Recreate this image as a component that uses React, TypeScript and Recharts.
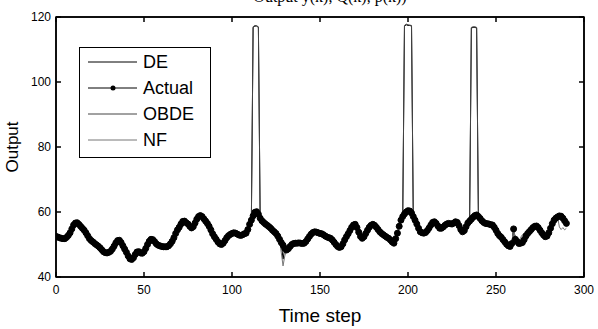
import React from "react";
import { LineChart, Line, XAxis, YAxis, Legend, ReferenceLine } from "recharts";

// measured output of the plant, one value per time step (0..290)
const actual = [
  52.5, 52.3, 52.1, 51.9, 51.8, 51.8, 52.2, 52.8, 53.6, 54.8,
  56.0, 56.6, 56.7, 56.2, 55.6, 55.0, 54.4, 53.6, 52.7, 51.8,
  51.2, 50.8, 50.3, 49.9, 49.5, 49.0, 48.4, 47.8, 47.5, 47.4,
  47.6, 47.9, 48.6, 49.5, 50.5, 51.2, 51.3, 50.6, 49.6, 48.6,
  47.6, 46.5, 45.6, 45.4, 45.9, 46.9, 47.7, 47.8, 47.4, 47.3,
  47.8, 48.8, 50.0, 51.0, 51.6, 51.5, 50.9, 50.2, 49.8, 49.6,
  49.4, 49.3, 49.3, 49.3, 49.6, 50.2, 51.0, 52.1, 53.4, 54.5,
  55.3, 56.3, 57.1, 57.2, 56.7, 56.3, 55.6, 55.1, 55.5, 56.6,
  57.8, 58.6, 58.9, 58.6, 57.9, 57.2, 56.5, 55.6, 54.5, 53.3,
  52.4, 51.6, 50.8, 50.2, 50.0, 50.4, 51.2, 52.1, 52.7, 53.1,
  53.4, 53.6, 53.5, 53.2, 52.9, 52.8, 53.0, 53.3, 53.5, 54.6,
  56.2, 57.5, 58.8, 59.9, 60.1, 59.3, 58.1, 57.3, 56.8, 56.3,
  55.9, 55.5, 55.0, 54.4, 53.9, 53.4, 52.6, 51.6, 50.6, 49.8,
  48.8, 48.3, 48.7, 49.4, 50.0, 50.3, 50.4, 50.4, 50.5, 50.4,
  50.3, 50.4, 50.9, 51.7, 52.5, 53.2, 53.7, 53.9, 53.8, 53.6,
  53.4, 53.3, 53.0, 52.6, 52.3, 52.1, 51.9, 51.4, 50.7, 50.0,
  49.4, 49.1, 49.3, 50.2, 51.4, 52.4, 53.3, 54.3, 55.3, 56.0,
  56.2, 55.2, 53.8, 52.5, 51.9, 52.4, 53.4, 54.4, 55.3, 55.9,
  56.2, 55.9, 55.3, 54.6, 53.9, 53.4, 53.0, 52.6, 52.2, 51.9,
  51.4, 50.8, 50.4, 51.8, 53.5, 55.6, 57.5, 58.6, 59.4, 60.0,
  60.4, 60.3, 59.7, 58.6, 57.5, 56.3, 55.0, 53.9, 53.6, 53.5,
  53.7, 54.3, 55.1, 56.0, 56.8, 57.0, 56.5, 55.7, 55.0, 55.0,
  55.4, 55.9, 56.3, 56.5, 56.4, 56.3, 56.6, 57.0, 56.8, 55.8,
  54.6, 53.9, 54.3, 55.5, 56.6, 57.2, 57.8, 58.4, 58.9, 59.1,
  58.6, 58.0, 57.3, 56.8, 56.5, 56.4, 56.3, 56.1, 56.0, 55.3,
  54.4, 53.4, 52.7, 52.2, 51.5, 50.8, 50.1, 49.6, 49.4, 50.3,
  54.8, 51.6, 50.9, 50.3, 50.4, 50.6, 51.5, 52.6, 53.4, 54.0,
  54.6, 55.2, 55.6, 55.7, 55.2, 54.4, 53.6, 52.9, 52.4, 52.6,
  53.6, 55.0, 56.4, 57.5, 58.1, 58.5, 58.8, 58.7, 58.1, 57.3,
  56.5,
];

// model outputs follow the actual curve except at these steps [t, value]
const deDiffs: [number, number][] = [
  [112, 116.8], [113, 117.2], [114, 117.2], [115, 116.8],
  [129, 45.5],
  [198, 117.2], [199, 117.6], [200, 117.4], [201, 117.4], [202, 117.2],
  [236, 116.6], [237, 116.8], [238, 116.8], [239, 116.6],
];
const obdeDiffs: [number, number][] = [
  [112, 117.0], [113, 117.4], [114, 117.3], [115, 117.0],
  [198, 117.4], [199, 117.8], [200, 117.6], [201, 117.5], [202, 117.4],
  [236, 116.8], [237, 117.0], [238, 117.0], [239, 116.8],
];
const nfDiffs: [number, number][] = [
  [128, 47.5], [129, 43.4], [130, 46.5],
  [264, 52.2], [265, 53.0], [266, 53.6], [267, 53.2],
  [286, 55.4], [287, 54.6], [288, 55.2], [289, 54.5], [290, 55.0],
];

const xTicks = [0, 50, 100, 150, 200, 250, 300];
const yTicks = [40, 60, 80, 100, 120];
const seriesNames = ["DE", "Actual", "OBDE", "NF"];
const seriesColors = ["#000", "#000", "#444", "#777"];

const FONT = "Arial, 'Liberation Sans', Helvetica, sans-serif";
// plot box in pixels (matlab style frame with inward ticks on all sides)
const BOX = { left: 56, right: 584, top: 17, bottom: 277 };
const TICK = 5;
const LW = 1.5;

const withDiffs = (diffs: [number, number][]) => {
  const m = new Map(diffs);
  return (t: number, v: number) => (m.has(t) ? m.get(t)! : v);
};
const de = withDiffs(deDiffs);
const obde = withDiffs(obdeDiffs);
const nf = withDiffs(nfDiffs);

const rows = actual.map((v, t) => ({
  t,
  DE: de(t, v),
  Actual: v,
  OBDE: obde(t, v),
  NF: nf(t, v),
}));

const XTick = (props: any) => {
  const x = props.payload.coordinate;
  return (
    <g>
      <line x1={x} x2={x} y1={BOX.bottom} y2={BOX.bottom - TICK} stroke="#000" strokeWidth={LW} />
      <line x1={x} x2={x} y1={BOX.top} y2={BOX.top + TICK} stroke="#000" strokeWidth={LW} />
      <text x={x} y={294} textAnchor="middle" fontSize={12} fontFamily={FONT} fill="#000">
        {props.payload.value}
      </text>
    </g>
  );
};

const YTick = (props: any) => {
  const y = props.payload.coordinate;
  return (
    <g>
      <line x1={BOX.left} x2={BOX.left + TICK} y1={y} y2={y} stroke="#000" strokeWidth={LW} />
      <line x1={BOX.right} x2={BOX.right - TICK} y1={y} y2={y} stroke="#000" strokeWidth={LW} />
      <text x={51} y={y + 4} textAnchor="end" fontSize={12} fontFamily={FONT} fill="#000">
        {props.payload.value}
      </text>
    </g>
  );
};

const LegendBox = () => (
  <div
    style={{
      width: 132,
      height: 111,
      boxSizing: "border-box",
      border: "1.5px solid #000",
      background: "#fff",
    }}
  >
    <svg width={129} height={108} style={{ display: "block" }}>
      {seriesNames.map((name, i) => {
        const y = 14 + i * 26;
        return (
          <g key={name}>
            <line x1={8} x2={57} y1={y} y2={y} stroke={seriesColors[i]} strokeWidth={1} />
            {name === "Actual" && <circle cx={33} cy={y} r={2.5} fill="#000" />}
            <text x={63} y={y + 6} fontSize={18} fontFamily={FONT} fill="#000">
              {name}
            </text>
          </g>
        );
      })}
    </svg>
  </div>
);

const YTitle = () => (
  <text x={18} y={147} transform="rotate(-90 18 147)" textAnchor="middle"
    fontSize={17} fontFamily={FONT} fill="#000">
    Output
  </text>
);

const XTitle = () => (
  <text x={320} y={322} textAnchor="middle" fontSize={19} fontFamily={FONT} fill="#000">
    Time step
  </text>
);

// title of the figure, mostly cut off at the top of the image
const TopTitle = () => (
  <text x={330} y={2} textAnchor="middle" fontSize={16} fontFamily="'Liberation Serif', serif" fill="#000">
    Output y(k), Q(k), p(k))
  </text>
);

export default function App() {
  return (
    <div style={{ position: "absolute", left: 0, top: 0, width: 598, height: 329, background: "#fff" }}>
      <LineChart width={598} height={329} data={rows}
        margin={{ top: 17, right: 14, left: 0, bottom: 0 }}>
        <XAxis xAxisId="b" dataKey="t" type="number" domain={[0, 300]} ticks={xTicks}
          allowDataOverflow height={52} tick={<XTick />} tickLine={false} tickSize={0}
          axisLine={{ stroke: "#000", strokeWidth: LW }} label={<XTitle />} />
        <YAxis yAxisId="l" type="number" domain={[40, 120]} ticks={yTicks} allowDataOverflow
          width={56} tick={<YTick />} tickLine={false} tickSize={0}
          axisLine={{ stroke: "#000", strokeWidth: LW }} label={<YTitle />} />
        <ReferenceLine xAxisId="b" yAxisId="l" y={120} stroke="#000" strokeWidth={LW}
          ifOverflow="visible" label={<TopTitle />} />
        <ReferenceLine xAxisId="b" yAxisId="l" x={300} stroke="#000" strokeWidth={LW}
          ifOverflow="visible" />
        <Legend content={<LegendBox />} layout="horizontal" verticalAlign="middle" align="center"
          wrapperStyle={{ left: 79, top: 47, width: 132, height: 111, bottom: "auto", right: "auto" }} />
        <Line xAxisId="b" yAxisId="l" dataKey="DE" stroke={seriesColors[0]} strokeWidth={1}
          dot={false} isAnimationActive={false} />
        <Line xAxisId="b" yAxisId="l" dataKey="Actual" stroke="#000" strokeWidth={1}
          dot={{ r: 3, fill: "#000", stroke: "#000", strokeWidth: 1 }} isAnimationActive={false} />
        <Line xAxisId="b" yAxisId="l" dataKey="OBDE" stroke={seriesColors[2]} strokeWidth={1}
          dot={false} isAnimationActive={false} />
        <Line xAxisId="b" yAxisId="l" dataKey="NF" stroke={seriesColors[3]} strokeWidth={1}
          dot={false} isAnimationActive={false} />
      </LineChart>
      {/* frame around the axes box */}
      <svg width={598} height={329} style={{ position: "absolute", left: 0, top: 0, pointerEvents: "none" }}>
        <rect x={BOX.left} y={BOX.top} width={BOX.right - BOX.left} height={BOX.bottom - BOX.top}
          fill="none" stroke="#000" strokeWidth={LW} />
      </svg>
    </div>
  );
}
